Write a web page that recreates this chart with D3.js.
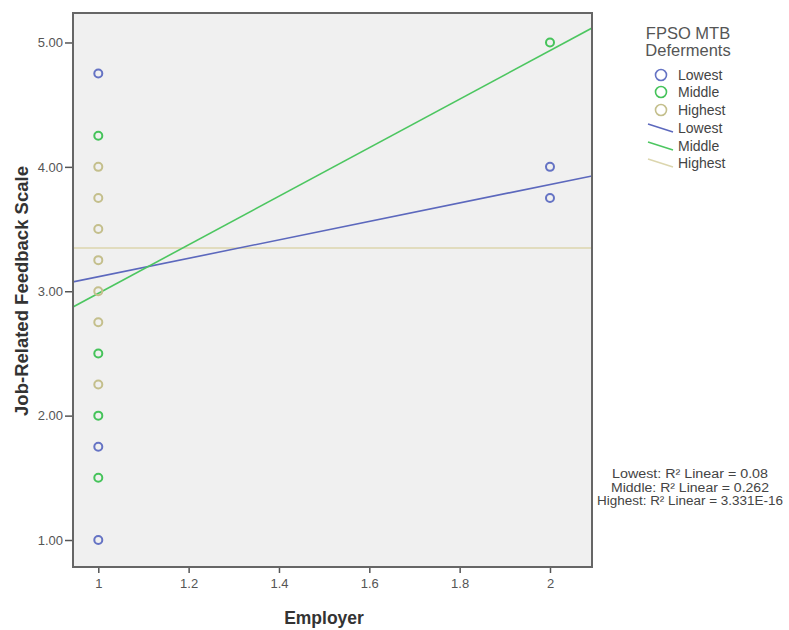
<!DOCTYPE html>
<html>
<head>
<meta charset="utf-8">
<script src="https://cdn.jsdelivr.net/npm/d3@7"></script>
<style>
body { margin:0; background:#fff; }
svg { font-family: "Liberation Sans", Arial, sans-serif; }
</style>
</head>
<body>
<svg width="789" height="630"></svg>
<script>
// groups + colours (SPSS style)
var groups = ["Lowest", "Middle", "Highest"]
var pointColors = ["#6573c4", "#45c35a", "#c4bf8c"]
var lineColors = ["#5c68bd", "#4cc660", "#dcd6ae"]

// scatter values
var lowestX = [1, 1, 1, 2, 2]
var lowestY = [4.75, 1.75, 1.0, 4.0, 3.75]
var middleX = [1, 1, 1, 1, 2]
var middleY = [4.25, 2.5, 2.0, 1.5, 5.0]
var highestX = [1, 1, 1, 1, 1, 1, 1]
var highestY = [4.0, 3.75, 3.5, 3.25, 3.0, 2.75, 2.25]

// linear fit lines (intercept, slope) per group
var fitIntercepts = [2.375, 1.031, 3.348]
var fitSlopes = [0.7415, 1.952, 0]
var r2Values = ["0.08", "0.262", "3.331E-16"]

var xTicks = [1, 1.2, 1.4, 1.6, 1.8, 2]
var yTicks = [1, 2, 3, 4, 5]

var plot = {left:73, top:13, right:592, bottom:567}

var xScale = d3.scaleLinear()
    .domain([0.944, 2.093])
    .range([plot.left, plot.right])
var yScale = d3.scaleLinear()
    .domain([0.783, 5.237])
    .range([plot.bottom, plot.top])

var svg = d3.select("svg")

// plot background
svg.append("rect")
    .attr("x", plot.left).attr("y", plot.top)
    .attr("width", plot.right - plot.left)
    .attr("height", plot.bottom - plot.top)
    .attr("fill", "#f0f0f0")

svg.append("clipPath").attr("id", "clip")
    .append("rect")
    .attr("x", plot.left).attr("y", plot.top)
    .attr("width", plot.right - plot.left)
    .attr("height", plot.bottom - plot.top)

var series = [
    {x:lowestX, y:lowestY},
    {x:middleX, y:middleY},
    {x:highestX, y:highestY}
]

// fit lines
var x0 = xScale.domain()[0], x1 = xScale.domain()[1]
var lines = svg.append("g").attr("clip-path", "url(#clip)")
// draw highest first so the coloured ones sit on top
;[2, 0, 1].forEach(function(i)
{
    lines.append("line")
        .attr("x1", xScale(x0))
        .attr("y1", yScale(fitIntercepts[i] + fitSlopes[i] * x0))
        .attr("x2", xScale(x1))
        .attr("y2", yScale(fitIntercepts[i] + fitSlopes[i] * x1))
        .attr("stroke", lineColors[i])
        .attr("stroke-width", 1.6)
})

// points
var pts = svg.append("g")
;[2, 1, 0].forEach(function(i)
{
    var s = series[i]
    pts.selectAll(".p" + i)
        .data(s.x.map(function(d, j){ return [d, s.y[j]] }))
        .enter()
        .append("circle")
        .attr("class", "p" + i)
        .attr("cx", function(d){ return xScale(d[0]) })
        .attr("cy", function(d){ return yScale(d[1]) })
        .attr("r", 4)
        .attr("fill", "none")
        .attr("stroke", pointColors[i])
        .attr("stroke-width", 2)
})

// axes
var yAxis = d3.axisLeft(yScale)
    .tickValues(yTicks)
    .tickFormat(d3.format(".2f"))
    .tickSize(8)
    .tickPadding(2)
var xAxis = d3.axisBottom(xScale)
    .tickValues(xTicks)
    .tickFormat(function(d){ return d3.format("")(d) })
    .tickSize(6)
    .tickPadding(6)

var ya = svg.append("g")
    .attr("transform", "translate(" + plot.left + ",0)")
    .call(yAxis)
var xa = svg.append("g")
    .attr("transform", "translate(0," + plot.bottom + ")")
    .call(xAxis)
;[ya, xa].forEach(function(a)
{
    a.select(".domain").remove()
    a.selectAll("line").attr("stroke", "#555").attr("stroke-width", 1.5)
    a.selectAll("text")
        .attr("fill", "#555")
        .style("font-size", "13px")
        .style("font-family", "'Liberation Sans', Arial, sans-serif")
})

// frame
svg.append("rect")
    .attr("x", plot.left).attr("y", plot.top)
    .attr("width", plot.right - plot.left)
    .attr("height", plot.bottom - plot.top)
    .attr("fill", "none")
    .attr("stroke", "#666")
    .attr("stroke-width", 2)

// axis titles
svg.append("text")
    .attr("x", 324).attr("y", 624)
    .attr("text-anchor", "middle")
    .attr("font-weight", "bold")
    .attr("font-size", 17.5)
    .attr("fill", "#333")
    .text("Employer")
svg.append("text")
    .attr("transform", "translate(28,291) rotate(-90)")
    .attr("text-anchor", "middle")
    .attr("font-weight", "bold")
    .attr("font-size", 18.5)
    .attr("fill", "#333")
    .text("Job-Related Feedback Scale")

// legend
var legend = svg.append("g")
legend.append("text")
    .attr("x", 688).attr("y", 39)
    .attr("text-anchor", "middle")
    .attr("font-size", 16.5).attr("fill", "#555")
    .text("FPSO MTB")
legend.append("text")
    .attr("x", 688).attr("y", 56)
    .attr("text-anchor", "middle")
    .attr("font-size", 16.5).attr("fill", "#555")
    .text("Deferments")

var circleY = [75, 92, 110]
var lineY = [128, 146, 163]
groups.forEach(function(g, i)
{
    legend.append("circle")
        .attr("cx", 661).attr("cy", circleY[i]).attr("r", 5.5)
        .attr("fill", "none")
        .attr("stroke", pointColors[i])
        .attr("stroke-width", 1.6)
    legend.append("text")
        .attr("x", 678).attr("y", circleY[i] + 5)
        .attr("font-size", 14).attr("fill", "#444")
        .text(g)
    legend.append("line")
        .attr("x1", 648).attr("y1", lineY[i] - 4)
        .attr("x2", 673).attr("y2", lineY[i] + 4)
        .attr("stroke", lineColors[i])
        .attr("stroke-width", 1.6)
    legend.append("text")
        .attr("x", 678).attr("y", lineY[i] + 5)
        .attr("font-size", 14).attr("fill", "#444")
        .text(g)
})

// R squared notes
groups.forEach(function(g, i)
{
    svg.append("text")
        .attr("x", 690).attr("y", 478 + i * 13.5)
        .attr("text-anchor", "middle")
        .attr("font-size", 12.5)
        .attr("textLength", [156, 158, 186][i])
        .attr("lengthAdjust", "spacingAndGlyphs")
        .attr("fill", "#444")
        .text(g + ": R\u00B2 Linear = " + r2Values[i])
})
</script>
</body>
</html>
